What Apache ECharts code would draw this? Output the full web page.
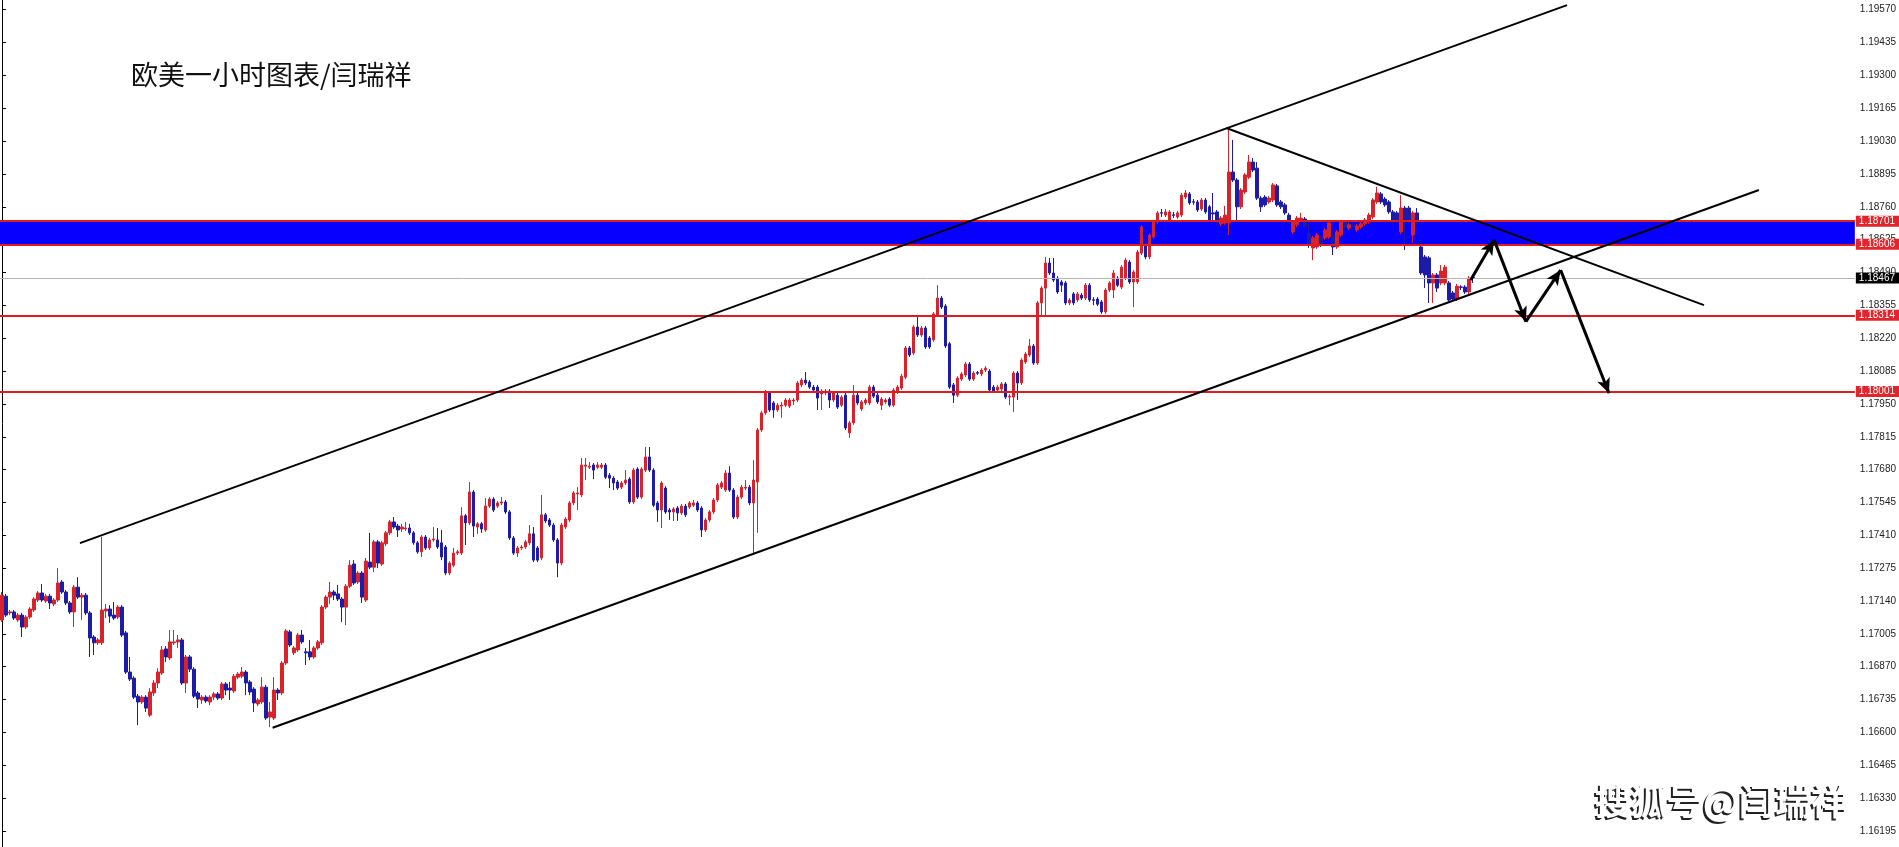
<!DOCTYPE html>
<html>
<head>
<meta charset="utf-8">
<script src="https://cdn.jsdelivr.net/npm/echarts@6/dist/echarts.min.js"></script>
<style>
html, body { margin: 0; padding: 0; background: #fff; }
#chart { width: 1899px; height: 847px; }
</style>
</head>
<body>
<div id="chart"></div>
<script>
const RED = "#d8232a"
const BLUE = "#1c1ca8"
const LEVEL_RED = "#e01b22"

// right price scale
const tickLabels = ["1.16195", "1.16330", "1.16465", "1.16600", "1.16735", "1.16870", "1.17005", "1.17140",
	"1.17275", "1.17410", "1.17545", "1.17680", "1.17815", "1.17950", "1.18085", "1.18220", "1.18355",
	"1.18490", "1.18625", "1.18760", "1.18895", "1.19030", "1.19165", "1.19300", "1.19435", "1.19570"]

// horizontal levels
const bandLevels = [1.18701, 1.18606]
const redLevels = [1.18701, 1.18606, 1.18314, 1.18001]
const lastPrice = 1.18467

// drawn lines, as [bar index, price]
const channelTop = [[19.5, 1.17378], [391.5, 1.19589]]
const channelBottom = [[67.7, 1.16619], [439.5, 1.18829]]
const resistance = [[306.25, 1.19084], [425.75, 1.18356]]
const forecastPath = [[367.4, 1.18459], [373.25, 1.18624], [381.2, 1.18288], [389.9, 1.185], [402, 1.17994]]

const slotCount = 464

// hourly bars: [open, close, low, high]
const candles = [
[1.17062,1.17164,1.17054,1.17177],[1.17160,1.17082,1.17074,1.17169],[1.17091,1.17095,1.17082,1.17103],[1.17095,1.17070,1.17062,1.17103],
[1.17062,1.17082,1.17054,1.17091],[1.17082,1.17033,1.16992,1.17091],[1.17033,1.17074,1.17025,1.17082],[1.17074,1.17107,1.17066,1.17115],
[1.17103,1.17148,1.17095,1.17156],[1.17144,1.17173,1.17136,1.17181],[1.17173,1.17144,1.17136,1.17210],[1.17140,1.17160,1.17132,1.17169],
[1.17160,1.17132,1.17107,1.17169],[1.17128,1.17144,1.17119,1.17152],[1.17144,1.17214,1.17136,1.17275],[1.17218,1.17177,1.17169,1.17226],
[1.17177,1.17132,1.17123,1.17185],[1.17132,1.17095,1.17087,1.17140],[1.17095,1.17197,1.17033,1.17206],[1.17197,1.17156,1.17148,1.17238],
[1.17156,1.17164,1.17062,1.17173],[1.17164,1.17091,1.17082,1.17173],[1.17091,1.16988,1.16910,1.17099],[1.16992,1.16968,1.16918,1.17000],
[1.16968,1.16980,1.16959,1.16988],[1.16968,1.17103,1.16959,1.17403],[1.17099,1.17107,1.17070,1.17128],[1.17107,1.17078,1.17050,1.17123],
[1.17082,1.17070,1.17062,1.17136],[1.17074,1.17115,1.17066,1.17123],[1.17115,1.17000,1.16992,1.17123],[1.17009,1.16848,1.16840,1.17017],
[1.16848,1.16819,1.16811,1.16910],[1.16823,1.16745,1.16737,1.16831],[1.16749,1.16725,1.16630,1.16758],[1.16725,1.16745,1.16717,1.16753],
[1.16745,1.16700,1.16684,1.16753],[1.16671,1.16766,1.16663,1.16782],[1.16762,1.16803,1.16749,1.16815],[1.16803,1.16848,1.16782,1.16864],
[1.16844,1.16939,1.16836,1.16955],[1.16943,1.16910,1.16889,1.16955],[1.16906,1.16972,1.16897,1.17021],[1.16968,1.16972,1.16959,1.17021],
[1.16972,1.16980,1.16947,1.17000],[1.16980,1.16803,1.16795,1.16988],[1.16803,1.16910,1.16762,1.16918],[1.16910,1.16860,1.16848,1.16918],
[1.16860,1.16749,1.16741,1.16868],[1.16762,1.16737,1.16700,1.16770],[1.16733,1.16745,1.16717,1.16753],[1.16745,1.16729,1.16721,1.16753],
[1.16725,1.16745,1.16712,1.16753],[1.16745,1.16758,1.16733,1.16766],[1.16758,1.16741,1.16733,1.16766],[1.16741,1.16799,1.16733,1.16807],
[1.16799,1.16774,1.16753,1.16807],[1.16782,1.16774,1.16733,1.16807],[1.16770,1.16831,1.16762,1.16840],[1.16827,1.16840,1.16819,1.16848],
[1.16831,1.16848,1.16823,1.16868],[1.16848,1.16803,1.16753,1.16856],[1.16807,1.16766,1.16753,1.16815],[1.16778,1.16721,1.16684,1.16786],
[1.16717,1.16733,1.16708,1.16741],[1.16725,1.16786,1.16717,1.16827],[1.16786,1.16659,1.16651,1.16795],[1.16663,1.16684,1.16622,1.16725],
[1.16659,1.16774,1.16651,1.16827],[1.16774,1.16762,1.16733,1.16782],[1.16762,1.16885,1.16753,1.16893],[1.16885,1.17017,1.16877,1.17025],
[1.17013,1.16959,1.16951,1.17021],[1.16927,1.16947,1.16918,1.16955],[1.16939,1.17000,1.16931,1.17009],[1.17000,1.16972,1.16964,1.17021],
[1.16931,1.16927,1.16877,1.16947],[1.16931,1.16910,1.16897,1.16980],[1.16910,1.16947,1.16902,1.16955],[1.16947,1.16972,1.16939,1.16980],
[1.16968,1.17115,1.16959,1.17123],[1.17115,1.17156,1.17107,1.17164],[1.17156,1.17177,1.17128,1.17218],[1.17177,1.17164,1.17144,1.17185],
[1.17169,1.17148,1.17140,1.17206],[1.17148,1.17115,1.17054,1.17156],[1.17115,1.17201,1.17041,1.17210],[1.17201,1.17287,1.17193,1.17308],
[1.17292,1.17214,1.17206,1.17308],[1.17218,1.17255,1.17210,1.17263],[1.17255,1.17156,1.17132,1.17263],[1.17144,1.17304,1.17136,1.17317],
[1.17300,1.17279,1.17271,1.17420],[1.17279,1.17383,1.17259,1.17391],[1.17383,1.17296,1.17275,1.17391],[1.17292,1.17379,1.17284,1.17387],
[1.17375,1.17420,1.17366,1.17428],[1.17420,1.17465,1.17411,1.17473],[1.17465,1.17444,1.17436,1.17485],[1.17448,1.17432,1.17403,1.17457],
[1.17436,1.17444,1.17424,1.17457],[1.17436,1.17440,1.17428,1.17465],[1.17440,1.17420,1.17411,1.17457],[1.17420,1.17379,1.17371,1.17428],
[1.17379,1.17342,1.17334,1.17387],[1.17342,1.17403,1.17321,1.17411],[1.17403,1.17358,1.17350,1.17411],[1.17358,1.17391,1.17350,1.17399],
[1.17391,1.17395,1.17383,1.17444],[1.17391,1.17362,1.17354,1.17440],[1.17379,1.17321,1.17308,1.17432],[1.17362,1.17255,1.17246,1.17370],
[1.17255,1.17296,1.17246,1.17304],[1.17287,1.17337,1.17279,1.17358],[1.17337,1.17342,1.17329,1.17350],[1.17337,1.17490,1.17329,1.17526],
[1.17490,1.17461,1.17370,1.17498],[1.17461,1.17588,1.17452,1.17629],[1.17588,1.17448,1.17403,1.17596],[1.17444,1.17457,1.17416,1.17465],
[1.17457,1.17436,1.17420,1.17465],[1.17432,1.17530,1.17424,1.17563],[1.17530,1.17559,1.17522,1.17567],[1.17559,1.17514,1.17506,1.17567],
[1.17530,1.17543,1.17522,1.17551],[1.17543,1.17547,1.17534,1.17567],[1.17547,1.17506,1.17498,1.17555],[1.17506,1.17399,1.17391,1.17514],
[1.17399,1.17337,1.17329,1.17407],[1.17337,1.17358,1.17321,1.17366],[1.17358,1.17362,1.17350,1.17370],[1.17362,1.17383,1.17354,1.17391],
[1.17379,1.17416,1.17370,1.17452],[1.17416,1.17308,1.17300,1.17444],[1.17358,1.17308,1.17300,1.17366],[1.17317,1.17494,1.17308,1.17576],
[1.17494,1.17469,1.17461,1.17502],[1.17473,1.17452,1.17444,1.17481],[1.17452,1.17391,1.17383,1.17461],[1.17391,1.17296,1.17238,1.17399],
[1.17296,1.17452,1.17287,1.17461],[1.17444,1.17477,1.17436,1.17485],[1.17473,1.17543,1.17465,1.17551],[1.17543,1.17584,1.17534,1.17592],
[1.17580,1.17584,1.17514,1.17608],[1.17576,1.17699,1.17567,1.17728],[1.17694,1.17699,1.17637,1.17728],[1.17690,1.17694,1.17682,1.17711],
[1.17699,1.17678,1.17641,1.17707],[1.17690,1.17699,1.17682,1.17711],[1.17690,1.17699,1.17682,1.17707],[1.17699,1.17649,1.17641,1.17707],
[1.17657,1.17645,1.17604,1.17666],[1.17645,1.17625,1.17596,1.17653],[1.17629,1.17604,1.17596,1.17637],[1.17608,1.17625,1.17600,1.17633],
[1.17625,1.17637,1.17617,1.17678],[1.17641,1.17547,1.17539,1.17649],[1.17547,1.17678,1.17539,1.17686],[1.17682,1.17567,1.17559,1.17690],
[1.17567,1.17682,1.17559,1.17690],[1.17678,1.17732,1.17670,1.17773],[1.17732,1.17678,1.17670,1.17773],[1.17678,1.17534,1.17526,1.17686],
[1.17543,1.17514,1.17465,1.17551],[1.17514,1.17625,1.17440,1.17633],[1.17604,1.17506,1.17498,1.17612],[1.17514,1.17506,1.17473,1.17522],
[1.17506,1.17518,1.17469,1.17526],[1.17522,1.17502,1.17469,1.17530],[1.17502,1.17530,1.17494,1.17539],[1.17530,1.17494,1.17485,1.17539],
[1.17526,1.17543,1.17518,1.17551],[1.17534,1.17543,1.17526,1.17555],[1.17543,1.17514,1.17506,1.17551],[1.17522,1.17432,1.17403,1.17530],
[1.17432,1.17473,1.17424,1.17481],[1.17473,1.17506,1.17465,1.17514],[1.17506,1.17555,1.17498,1.17563],[1.17555,1.17617,1.17547,1.17625],
[1.17608,1.17625,1.17600,1.17633],[1.17596,1.17666,1.17588,1.17678],[1.17666,1.17596,1.17588,1.17694],[1.17596,1.17485,1.17477,1.17604],
[1.17485,1.17567,1.17477,1.17576],[1.17567,1.17608,1.17559,1.17617],[1.17604,1.17608,1.17596,1.17637],[1.17608,1.17543,1.17534,1.17617],
[1.17543,1.17637,1.17337,1.17719],[1.17629,1.17843,1.17420,1.17851],[1.17843,1.17913,1.17835,1.17921],[1.17913,1.17995,1.17905,1.18007],
[1.17995,1.17925,1.17917,1.18003],[1.17954,1.17925,1.17893,1.17962],[1.17925,1.17945,1.17917,1.17954],[1.17941,1.17945,1.17893,1.17958],
[1.17945,1.17966,1.17937,1.17974],[1.17941,1.17966,1.17933,1.17974],[1.17962,1.17966,1.17945,1.17974],[1.17966,1.18036,1.17958,1.18044],
[1.18028,1.18048,1.18019,1.18056],[1.18048,1.18036,1.18028,1.18081],[1.18040,1.18019,1.18011,1.18048],[1.18019,1.18007,1.17999,1.18028],
[1.18019,1.17974,1.17925,1.18028],[1.17991,1.18003,1.17925,1.18011],[1.17995,1.18003,1.17986,1.18011],[1.18003,1.17966,1.17933,1.18011],
[1.17966,1.17995,1.17958,1.18003],[1.17986,1.17937,1.17929,1.17995],[1.17945,1.17978,1.17937,1.17986],[1.17986,1.17851,1.17843,1.17995],
[1.17831,1.17872,1.17810,1.17880],[1.17872,1.17986,1.17864,1.18028],[1.17986,1.17954,1.17945,1.17995],[1.17929,1.17958,1.17921,1.17966],
[1.17954,1.17966,1.17945,1.17974],[1.17954,1.18019,1.17945,1.18028],[1.18019,1.17982,1.17974,1.18028],[1.17986,1.17958,1.17950,1.17995],
[1.17945,1.17970,1.17925,1.17978],[1.17958,1.17966,1.17950,1.17974],[1.17970,1.17945,1.17937,1.17978],[1.17945,1.18007,1.17937,1.18015],
[1.17999,1.18019,1.17991,1.18028],[1.18015,1.18064,1.18007,1.18073],[1.18060,1.18180,1.18052,1.18188],[1.18180,1.18151,1.18143,1.18188],
[1.18159,1.18266,1.18151,1.18274],[1.18266,1.18233,1.18225,1.18307],[1.18233,1.18262,1.18225,1.18270],[1.18262,1.18184,1.18176,1.18270],
[1.18221,1.18184,1.18176,1.18229],[1.18213,1.18320,1.18205,1.18328],[1.18315,1.18385,1.18307,1.18438],[1.18385,1.18348,1.18340,1.18393],
[1.18352,1.18188,1.18180,1.18360],[1.18197,1.18019,1.18011,1.18205],[1.18028,1.17986,1.17954,1.18036],[1.17986,1.18056,1.17978,1.18064],
[1.18052,1.18073,1.18044,1.18081],[1.18069,1.18114,1.18060,1.18122],[1.18114,1.18052,1.18044,1.18122],[1.18052,1.18077,1.18044,1.18085],
[1.18079,1.18076,1.18069,1.18085],[1.18073,1.18089,1.18064,1.18097],[1.18089,1.18097,1.18081,1.18105],[1.18085,1.18007,1.17999,1.18093],
[1.18019,1.18003,1.17995,1.18028],[1.18007,1.18019,1.17999,1.18028],[1.18011,1.18032,1.18003,1.18040],[1.18032,1.17978,1.17970,1.18040],
[1.17978,1.17982,1.17945,1.17991],[1.17978,1.18077,1.17917,1.18085],[1.18077,1.18036,1.17966,1.18085],[1.18036,1.18130,1.18028,1.18138],
[1.18122,1.18155,1.18114,1.18163],[1.18151,1.18188,1.18143,1.18217],[1.18188,1.18118,1.18110,1.18196],[1.18118,1.18365,1.18110,1.18373],
[1.18365,1.18426,1.18311,1.18434],[1.18426,1.18529,1.18315,1.18554],[1.18529,1.18488,1.18480,1.18550],[1.18488,1.18459,1.18451,1.18550],
[1.18467,1.18410,1.18402,1.18475],[1.18451,1.18438,1.18410,1.18459],[1.18447,1.18365,1.18356,1.18455],[1.18365,1.18377,1.18356,1.18385],
[1.18402,1.18365,1.18356,1.18410],[1.18377,1.18402,1.18369,1.18410],[1.18397,1.18385,1.18377,1.18406],[1.18385,1.18438,1.18377,1.18447],
[1.18438,1.18377,1.18369,1.18447],[1.18378,1.18376,1.18356,1.18389],[1.18381,1.18360,1.18352,1.18389],[1.18369,1.18328,1.18320,1.18377],
[1.18328,1.18418,1.18320,1.18426],[1.18418,1.18447,1.18410,1.18455],[1.18418,1.18488,1.18385,1.18500],[1.18467,1.18438,1.18430,1.18475],
[1.18430,1.18512,1.18422,1.18521],[1.18467,1.18541,1.18459,1.18550],[1.18533,1.18451,1.18443,1.18541],[1.18451,1.18492,1.18348,1.18500],
[1.18451,1.18574,1.18443,1.18583],[1.18570,1.18677,1.18562,1.18685],[1.18611,1.18554,1.18545,1.18619],[1.18554,1.18644,1.18545,1.18652],
[1.18636,1.18698,1.18628,1.18706],[1.18698,1.18735,1.18690,1.18743],[1.18736,1.18734,1.18718,1.18751],[1.18726,1.18739,1.18718,1.18751],
[1.18706,1.18739,1.18698,1.18747],[1.18727,1.18725,1.18714,1.18739],[1.18718,1.18735,1.18710,1.18743],[1.18726,1.18808,1.18718,1.18817],
[1.18800,1.18817,1.18792,1.18829],[1.18813,1.18776,1.18768,1.18821],[1.18781,1.18779,1.18768,1.18792],[1.18780,1.18747,1.18739,1.18788],
[1.18751,1.18788,1.18743,1.18796],[1.18788,1.18739,1.18731,1.18796],[1.18760,1.18706,1.18698,1.18768],[1.18735,1.18731,1.18706,1.18817],
[1.18739,1.18694,1.18686,1.18747],[1.18690,1.18714,1.18681,1.18722],[1.18694,1.18726,1.18686,1.18764],[1.18694,1.18903,1.18644,1.19084],
[1.18903,1.18870,1.18862,1.19035],[1.18870,1.18760,1.18706,1.18878],[1.18760,1.18829,1.18751,1.18837],[1.18821,1.18891,1.18813,1.18899],
[1.18882,1.18944,1.18874,1.18973],[1.18944,1.18911,1.18903,1.18961],[1.18919,1.18796,1.18788,1.18944],[1.18796,1.18760,1.18739,1.18804],
[1.18800,1.18768,1.18760,1.18808],[1.18780,1.18796,1.18772,1.18804],[1.18788,1.18850,1.18780,1.18858],[1.18846,1.18768,1.18760,1.18854],
[1.18780,1.18760,1.18751,1.18788],[1.18768,1.18735,1.18726,1.18776],[1.18726,1.18698,1.18690,1.18735],[1.18657,1.18698,1.18648,1.18706],
[1.18686,1.18714,1.18677,1.18722],[1.18706,1.18714,1.18698,1.18735],[1.18710,1.18681,1.18673,1.18718],[1.18652,1.18603,1.18591,1.18694],
[1.18591,1.18632,1.18541,1.18640],[1.18595,1.18644,1.18587,1.18652],[1.18636,1.18603,1.18595,1.18644],[1.18632,1.18665,1.18624,1.18673],
[1.18636,1.18694,1.18628,1.18702],[1.18644,1.18595,1.18562,1.18652],[1.18595,1.18657,1.18587,1.18665],[1.18644,1.18698,1.18636,1.18706],
[1.18698,1.18677,1.18669,1.18706],[1.18673,1.18686,1.18665,1.18694],[1.18682,1.18680,1.18669,1.18694],[1.18665,1.18681,1.18657,1.18690],
[1.18677,1.18690,1.18669,1.18698],[1.18690,1.18706,1.18681,1.18714],[1.18698,1.18726,1.18690,1.18735],[1.18718,1.18788,1.18710,1.18796],
[1.18780,1.18817,1.18772,1.18842],[1.18813,1.18780,1.18772,1.18821],[1.18792,1.18768,1.18760,1.18800],[1.18780,1.18739,1.18731,1.18788],
[1.18739,1.18698,1.18690,1.18747],[1.18735,1.18702,1.18694,1.18743],[1.18657,1.18755,1.18648,1.18808],[1.18755,1.18706,1.18583,1.18764],
[1.18755,1.18698,1.18690,1.18764],[1.18644,1.18735,1.18611,1.18743],[1.18735,1.18694,1.18686,1.18755],[1.18595,1.18488,1.18480,1.18624],
[1.18554,1.18480,1.18426,1.18562],[1.18550,1.18447,1.18365,1.18558],[1.18447,1.18480,1.18365,1.18488],[1.18480,1.18426,1.18410,1.18488],
[1.18447,1.18496,1.18438,1.18521],[1.18447,1.18512,1.18438,1.18521],[1.18447,1.18377,1.18369,1.18455],[1.18406,1.18381,1.18373,1.18414],
[1.18381,1.18434,1.18373,1.18443],[1.18431,1.18429,1.18418,1.18438],[1.18430,1.18410,1.18402,1.18438],[1.18410,1.18467,1.18402,1.18475],
[1.18470,1.18467,1.18447,1.18475]
]

const categories = Array.from({ length: slotCount }, (_, i) => String(i))
const tickValues = tickLabels.map(Number)

const plainLine = (pair) => [
	{ coord: pair[0], symbol: "none" },
	{ coord: pair[1], symbol: "none" },
]

const arrowLines = forecastPath.slice(1).map((pt, i) => [
	{ coord: forecastPath[i], symbol: "none" },
	{ coord: pt, symbol: "arrow", symbolSize: [10, 15], lineStyle: { width: 3 } },
])

const levelLabel = (bg) => ({
	show: true,
	position: "end",
	distance: 1,
	formatter: (p) => p.value.toFixed(5),
	color: "#fff",
	backgroundColor: bg,
	fontSize: 10,
	fontFamily: "Liberation Sans",
	padding: [1, 4, 0, 3],
})

const levelLines = redLevels.map((v) => ({
	yAxis: v,
	lineStyle: { color: LEVEL_RED, width: 2, type: "solid" },
	label: levelLabel("#e3242b"),
}))
levelLines.push({
	yAxis: lastPrice,
	lineStyle: { color: "#b4b4b4", width: 1, type: "solid" },
	label: levelLabel("#000"),
})

const watermark = "搜狐号@闫瑞祥"

const chart = echarts.init(document.getElementById("chart"))
chart.setOption({
	backgroundColor: "#fff",
	animation: false,
	title: {
		text: "欧美一小时图表/闫瑞祥",
		left: 131,
		top: 61,
		padding: 0,
		textStyle: {
			fontFamily: "Noto Sans CJK SC",
			fontSize: 27,
			fontWeight: "normal",
			color: "#111",
		},
	},
	graphic: [
		{
			type: "text",
			right: 54,
			top: 785,
			z: 100,
			style: {
				text: watermark,
				fontFamily: "Noto Sans CJK SC",
				fontSize: 36,
				fontWeight: "bold",
				fill: "#222",
			},
		},
		{
			type: "text",
			right: 52,
			top: 783,
			z: 101,
			style: {
				text: watermark,
				fontFamily: "Noto Sans CJK SC",
				fontSize: 36,
				fontWeight: "bold",
				fill: "#fff",
			},
		},
	],
	grid: { left: 0, right: 43, top: 0, bottom: 0 },
	xAxis: [
		{ type: "category", data: categories, boundaryGap: true, show: false },
		{ type: "value", min: -0.5, max: slotCount - 0.5, show: false },
	],
	yAxis: {
		type: "value",
		position: "right",
		min: 1.16129,
		max: 1.1961,
		axisLine: { show: true, lineStyle: { color: "#000", width: 1 } },
		axisTick: { show: true, length: 4, customValues: tickValues, lineStyle: { color: "#000" } },
		axisLabel: {
			customValues: tickValues,
			formatter: (v) => v.toFixed(5),
			fontSize: 10,
			fontFamily: "Liberation Sans",
			color: "#222",
			margin: 5,
		},
		splitLine: { show: false },
	},
	series: [
		{
			name: "band",
			type: "line",
			xAxisIndex: 1,
			data: [],
			z: 1,
			markArea: {
				silent: true,
				itemStyle: { color: "#0800ff", opacity: 1 },
				data: [[{ yAxis: bandLevels[0] }, { yAxis: bandLevels[1] }]],
			},
		},
		{
			name: "EURUSD H1",
			type: "candlestick",
			xAxisIndex: 0,
			data: candles,
			barWidth: 3,
			z: 3,
			itemStyle: {
				color: RED,
				color0: BLUE,
				borderColor: RED,
				borderColor0: BLUE,
				borderWidth: 1,
			},
		},
		{
			name: "drawings",
			type: "line",
			xAxisIndex: 1,
			data: [],
			z: 10,
			markLine: {
				silent: true,
				animation: false,
				precision: 5,
				symbol: ["none", "none"],
				label: { show: false },
				lineStyle: { color: "#000", width: 2, type: "solid" },
				data: [
					...levelLines,
					plainLine(channelTop),
					plainLine(channelBottom),
					plainLine(resistance),
					...arrowLines,
				],
			},
		},
	],
})
</script>
</body>
</html>
